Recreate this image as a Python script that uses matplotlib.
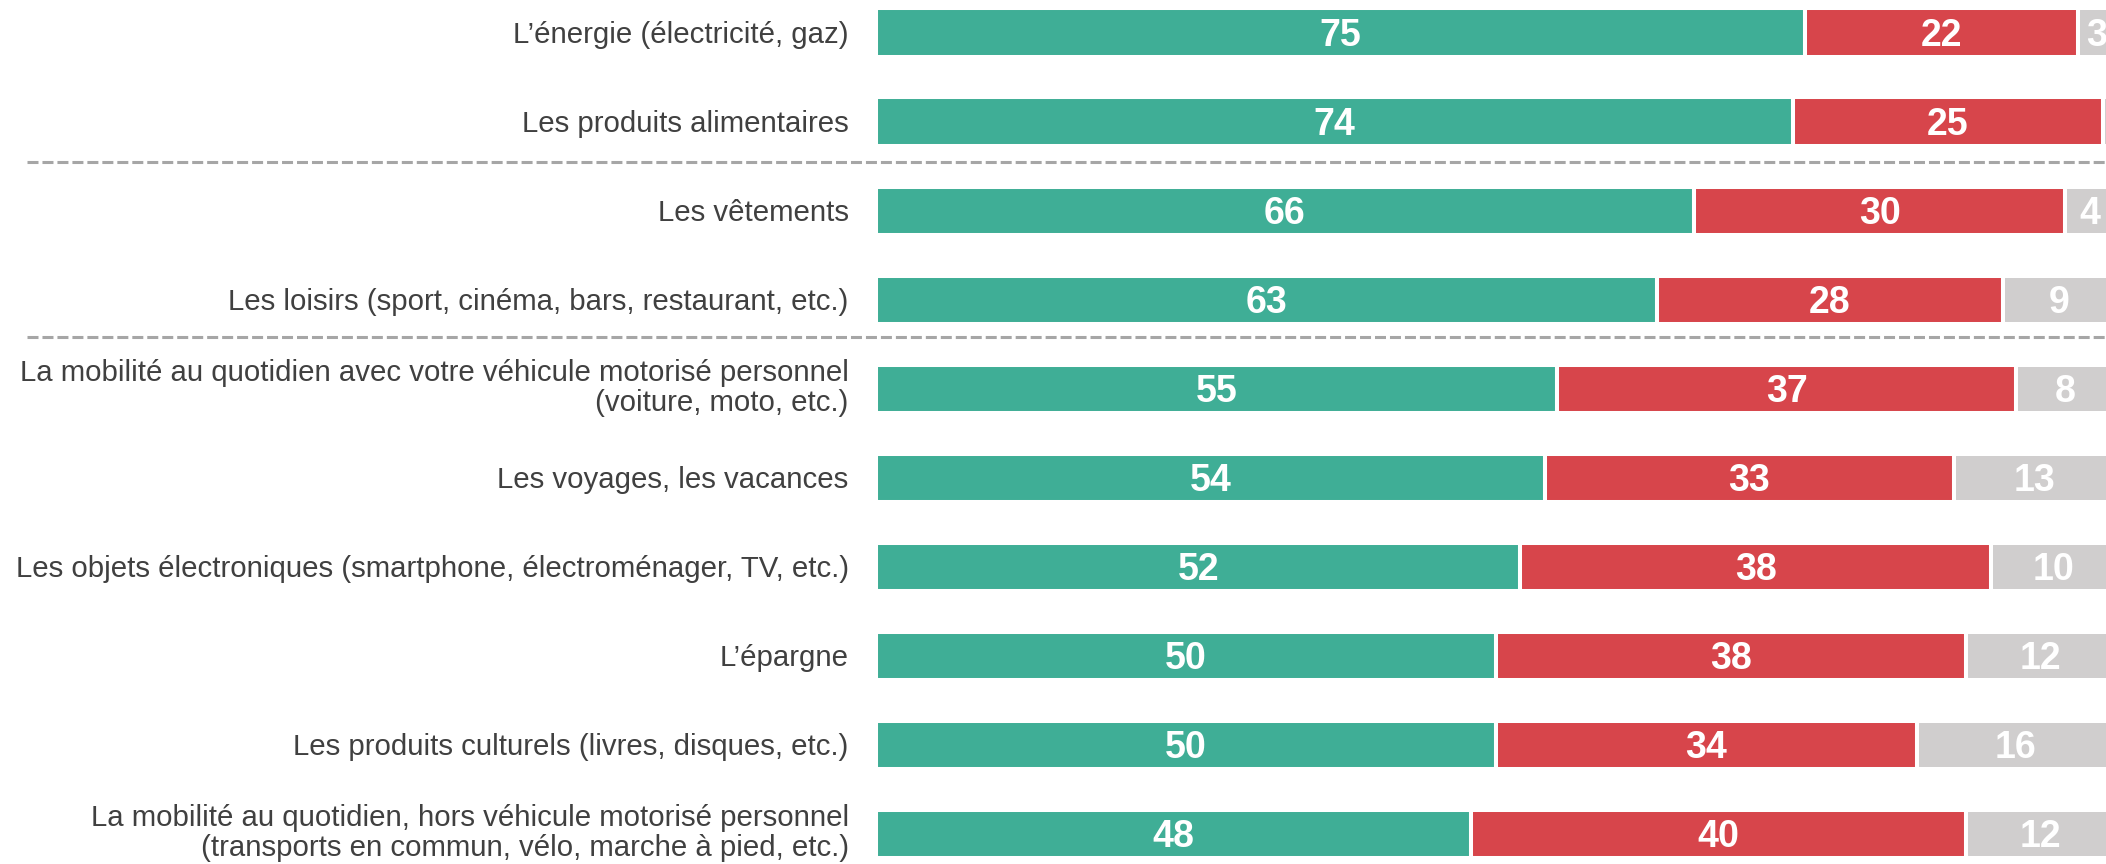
import matplotlib.pyplot as plt
import numpy as np

plt.rcParams['font.family'] = ['Liberation Sans', 'DejaVu Sans']

categories = [
    "L’énergie (électricité, gaz)",
    "Les produits alimentaires",
    "Les vêtements",
    "Les loisirs (sport, cinéma, bars, restaurant, etc.)",
    "La mobilité au quotidien avec votre véhicule motorisé personnel\n(voiture, moto, etc.)",
    "Les voyages, les vacances",
    "Les objets électroniques (smartphone, électroménager, TV, etc.)",
    "L’épargne",
    "Les produits culturels (livres, disques, etc.)",
    "La mobilité au quotidien, hors véhicule motorisé personnel\n(transports en commun, vélo, marche à pied, etc.)",
]
green_vals = [75, 74, 66, 63, 55, 54, 52, 50, 50, 48]
red_vals = [22, 25, 30, 28, 37, 33, 38, 38, 34, 40]
grey_vals = [3, 1, 4, 9, 8, 13, 10, 12, 16, 12]

colors = ['#3fae96', '#d7454b', '#d0cece']

fig = plt.figure(figsize=(21.06, 8.64), dpi=100)
ax = fig.add_axes([876 / 2106, 0, 1239 / 2106, 1])

y = np.arange(len(categories))
left = np.zeros(len(categories))
for vals, col in zip([green_vals, red_vals, grey_vals], colors):
    vals = np.array(vals)
    ax.barh(y, vals, left=left, height=0.54, color=col,
            edgecolor='white', linewidth=2.9)
    for yi, l, v in zip(y, left, vals):
        if v >= 2:
            ax.text(l + v / 2, yi + 0.04, str(v), ha='center', va='center',
                    color='white', fontsize=27, fontweight='bold')
    left = left + vals

ax.set_xlim(0, 100)
ax.set_ylim(9.34, -0.365)

# libellés à gauche des barres
for yi, lab in zip(y, categories):
    dy = -0.01 if '\n' in lab else 0.03
    ax.text(-2.2, yi + dy, lab, ha='right', va='center', fontsize=21.2,
            color='#404040', multialignment='right', linespacing=1.1,
            clip_on=False)

ax.set_yticks([])
ax.set_xticks([])
for s in ax.spines.values():
    s.set_visible(False)

# separateurs pointillés
for ly in [1.46, 3.42]:
    ax.axhline(ly, xmin=-849 / 1239, xmax=1, color='#a6a6a6', lw=2.2,
               ls=(0, (3.6, 1.3)), clip_on=False)

fig.savefig('out.png', dpi=100)
